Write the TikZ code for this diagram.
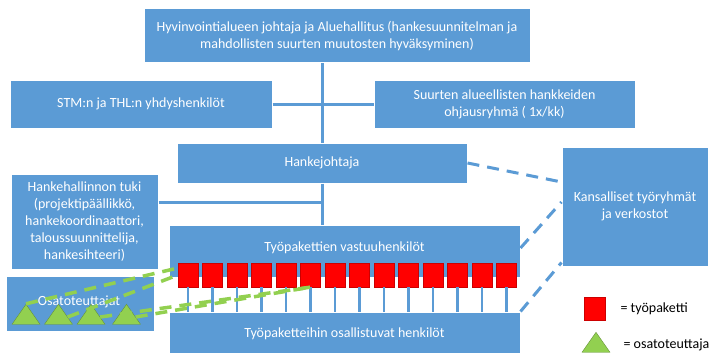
\documentclass[tikz,border=0pt]{standalone}
\usepackage{fontspec}
\setmainfont{Carlito}
\usetikzlibrary{shapes.geometric}
\definecolor{boxblue}{HTML}{5B9BD5}
\definecolor{wpred}{HTML}{FF0000}
\definecolor{partgreen}{HTML}{92D050}
\tikzset{
    wp/.style={rectangle, fill=wpred, draw=wpred!80!black, line width=0.3pt, minimum width=20pt, minimum height=24pt, inner sep=0pt},
    part/.style={isosceles triangle, shape border rotate=90, isosceles triangle stretches, fill=partgreen, draw=partgreen!70!black, line width=0.4pt, minimum width=28pt, minimum height=20pt, inner sep=0pt},
}

\begin{document}
\begin{tikzpicture}[x=1pt,y=-1pt]
    \useasboundingbox[fill=white] (0,0) rectangle (712,353);
    \begin{scope}[every node/.style={rectangle, fill=boxblue, draw=white, line width=1pt, text=white, align=center, inner sep=2pt, font=\fontsize{14}{17}\selectfont}]
        \node[minimum width=386pt, minimum height=54pt] (top) at (337,36) {Hyvinvointialueen johtaja ja Aluehallitus (hankesuunnitelman ja\\mahdollisten suurten muutosten hyväksyminen)};
        \node[minimum width=262pt, minimum height=48pt] (stm) at (141,104) {STM:n ja THL:n yhdyshenkilöt};
        \node[minimum width=261pt, minimum height=48pt] (ohjaus) at (504.5,104) {Suurten alueellisten hankkeiden\\ohjausryhmä ( 1x/kk)};
        \node[minimum width=290pt, minimum height=40pt] (hanke) at (322,163) {Hankejohtaja};
        \node[minimum width=147pt, minimum height=95pt] (tuki) at (84.5,221.5) {Hankehallinnon tuki\\(projektipäällikkö,\\hankekoordinaattori,\\taloussuunnittelija,\\hankesihteeri)};
        \node[minimum width=146pt, minimum height=119pt] (kans) at (635,206.5) {Kansalliset työryhmät\\ja verkostot};
        \node[minimum width=351pt, minimum height=52pt] (vastuu) at (344.5,251) {};
        \node[fill=none, draw=none] at (344.5,248) {Työpakettien vastuuhenkilöt};
        \node[minimum width=351pt, minimum height=44pt] (osall) at (344.5,334) {Työpaketteihin osallistuvat henkilöt};
        \node[minimum width=148pt, minimum height=55pt] (osat) at (80,303.5) {};
        \node[fill=none, draw=none] at (79,302) {Osatoteuttajat};
    \end{scope}
    \begin{scope}[every edge/.style={draw=boxblue, line width=3pt}]
        \path [-] (top.south -| hanke.north) edge (hanke.north);
        \path [-] (stm.east) edge (ohjaus.west);
        \path [-] (hanke.south) edge (hanke.south |- vastuu.north);
        \path [-] ([yshift=19.5pt]tuki.east) edge ([yshift=19.5pt]tuki.east -| hanke.south);
    \end{scope}
    \foreach \i in {1,...,14} {
        \node[wp] (sq\i) at ({188+24.5*(\i-1)},275) {};
        \draw[boxblue, line width=2.5pt] (sq\i.south) -- (sq\i.south |- osall.north);
    }
    \foreach \i/\x in {1/26,2/58.5,3/91,4/126.5} {
        \node[part] (tri\i) at (\x,317) {};
    }
    \begin{scope}[every edge/.style={draw=boxblue, line width=3pt, dash pattern=on 12pt off 8pt}]
        \path [-] (hanke.east) edge ([yshift=24.5pt]kans.west);
        \path [-] ([yshift=3pt]vastuu.east) edge ([yshift=4.5pt]kans.west);
        \path [-] (osall.north east) edge ([yshift=4pt]kans.south west);
    \end{scope}
    \begin{scope}[every edge/.style={draw=partgreen, line width=3.5pt, dash pattern=on 12pt off 8pt}]
        \path [-] (tri1.apex) edge ([yshift=7pt]sq1.west);
        \path [-] (tri2.east) edge (sq1.west);
        \path [-] (tri3.east) edge (sq6.south);
        \path [-] (tri4.east) edge (sq6.south);
    \end{scope}
    \node[wp, minimum width=21pt, minimum height=23pt] (keywp) at (594.5,308.5) {};
    \node[anchor=west, font=\fontsize{14}{17}\selectfont] at (617,309) {= työpaketti};
    \node[part] (keypart) at (596,345) {};
    \node[anchor=west, font=\fontsize{14}{17}\selectfont] at (620,345) {= osatoteuttaja};
\end{tikzpicture}
\end{document}
